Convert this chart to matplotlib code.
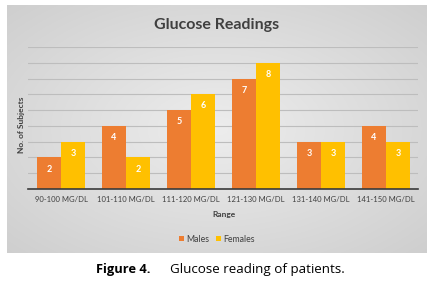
import numpy as np
import matplotlib
matplotlib.use("Agg")
import matplotlib.pyplot as plt

categories = ["90-100 MG/DL", "101-110 MG/DL", "111-120 MG/DL",
              "121-130 MG/DL", "131-140 MG/DL", "141-150 MG/DL"]
males = [2, 4, 5, 7, 3, 4]
females = [3, 2, 6, 8, 3, 3]
series_names = ["Males", "Females"]

W, H = 431, 286
fig = plt.figure(figsize=(W / 100, H / 100), dpi=100)
fig.patch.set_facecolor("white")

def fx(x):
    return x / W

def fy(y):
    return 1 - y / H

# chart background with soft gray gradient
bg = fig.add_axes([fx(7), fy(253), fx(427) - fx(7), fy(5) - fy(253)])
yy, xx = np.mgrid[-1:1:200j, -1:1:300j]
r = np.sqrt(xx ** 2 + yy ** 2) / np.sqrt(2)
grad = 0.93 - 0.12 * r
bg.imshow(np.dstack([grad, grad, grad]), aspect="auto", extent=[0, 1, 0, 1])
bg.set_axis_off()

ax = fig.add_axes([fx(28.5), fy(189), fx(418.5) - fx(28.5), fy(47) - fy(189)])
ax.set_facecolor("none")
x = np.arange(len(categories))
w = 0.374
b1 = ax.bar(x - w / 2, males, w, color="#ED7D31", label=series_names[0], zorder=3)
b2 = ax.bar(x + w / 2, females, w, color="#FFC000", label=series_names[1], zorder=3)
font = "Lato"
for bars, vals in ((b1, males), (b2, females)):
    for rect, v in zip(bars, vals):
        ax.text(rect.get_x() + rect.get_width() / 2, v - 0.45, str(v),
                ha="center", va="top", color="white", fontsize=6.5,
                fontweight="bold", family=font, zorder=4)
ax.set_xlim(-0.5, len(categories) - 0.5)
ax.set_ylim(0, 9)
ax.set_yticks(range(0, 10))
ax.set_yticklabels([])
ax.tick_params(axis="y", length=0)
ax.tick_params(axis="x", length=0, pad=5)
ax.set_xticks(x)
ax.set_xticklabels(categories, fontsize=5.5, family=font, color="#404040")
ax.grid(axis="y", color="#bdbdbd", linewidth=0.8, zorder=0)
for s in ["top", "right", "left"]:
    ax.spines[s].set_visible(False)
ax.spines["bottom"].set_color("#3a3a3a")
ax.spines["bottom"].set_linewidth(1.2)
ax.spines["bottom"].set_zorder(5)

fig.text(fx(217), fy(25), "Glucose Readings", ha="center", va="center",
         fontsize=11.5, fontweight="bold", family=font, color="#404040")
fig.text(fx(22), fy(125), "No. of Subjects", ha="center", va="center",
         rotation=90, fontsize=6, fontweight="bold", family=font, color="#404040")
fig.text(fx(224), fy(214), "Range", ha="center", va="center",
         fontsize=6, fontweight="bold", family=font, color="#404040")
leg = fig.legend(handles=[b1, b2], loc="center", bbox_to_anchor=(fx(217), fy(239)),
                 ncol=2, frameon=False, handlelength=0.5,
                 handleheight=0.5, handletextpad=0.3, columnspacing=0.8,
                 prop={"family": font, "size": 6.3})
for t in leg.get_texts():
    t.set_color("#404040")

fig.text(fx(150), fy(270), "Figure 4.", ha="right", va="center",
         fontsize=9.3, fontweight="bold", family="Open Sans", color="black")
fig.text(fx(170), fy(270), "Glucose reading of patients.", ha="left", va="center",
         fontsize=9.6, family="Open Sans", color="black")

fig.savefig("out.png", dpi=100)
